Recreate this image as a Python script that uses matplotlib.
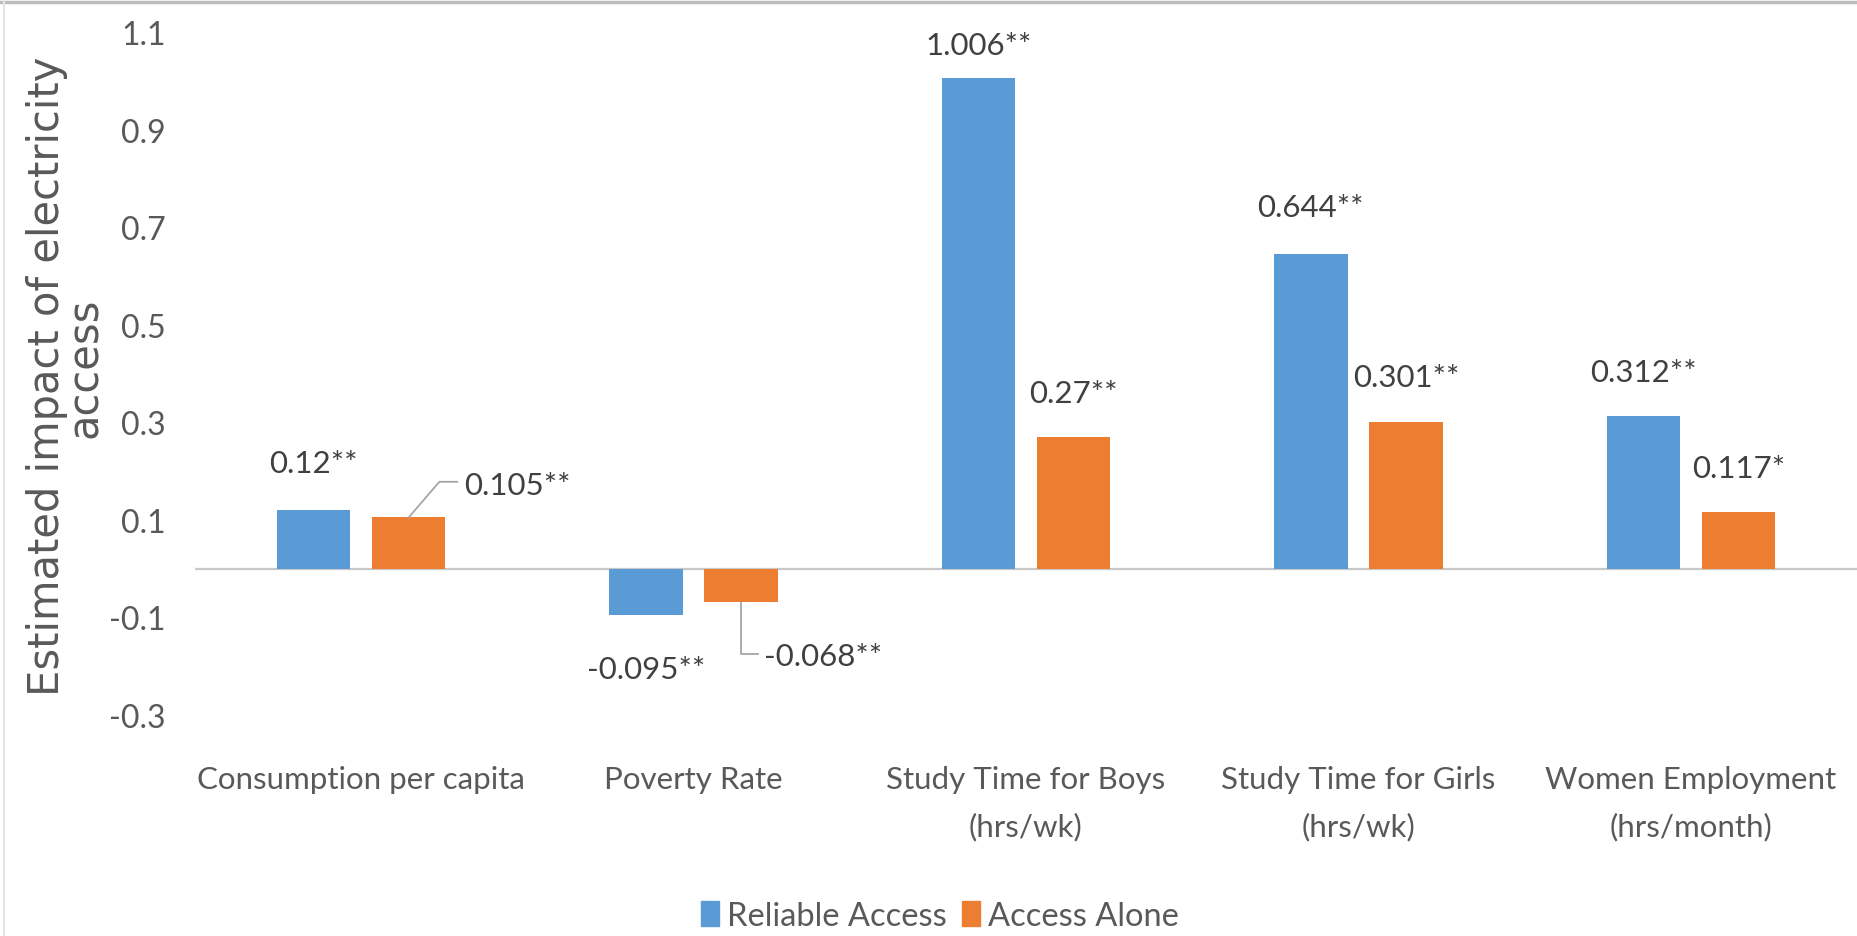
import matplotlib
matplotlib.use("Agg")
import matplotlib.pyplot as plt
from matplotlib.lines import Line2D
from matplotlib.patches import Patch
import numpy as np

categories = ["Consumption per capita", "Poverty Rate", "Study Time for Boys\n(hrs/wk)",
              "Study Time for Girls\n(hrs/wk)", "Women Employment\n(hrs/month)"]
reliable = [0.12, -0.095, 1.006, 0.644, 0.312]
alone = [0.105, -0.068, 0.27, 0.301, 0.117]
reliable_labels = ["0.12**", "-0.095**", "1.006**", "0.644**", "0.312**"]
alone_labels = ["0.105**", "-0.068**", "0.27**", "0.301**", "0.117*"]
yticks = [-0.3, -0.1, 0.1, 0.3, 0.5, 0.7, 0.9, 1.1]

# where Excel had the labels dragged to (label centre, data units)
reliable_label_y = [0.216, -0.206, 1.073, 0.742, 0.404]
alone_label_y = [0.36, 0.393, 0.206]   # boys, girls, women

blue = "#5B9BD5"
orange = "#ED7D31"
txt = "#404040"
grey = "#595959"
font = ["Lato", "DejaVu Sans"]
fs = 22.5

W, H = 1857, 937
fig = plt.figure(figsize=(W / 100, H / 100), dpi=100)
ax = fig.add_axes([195 / W, 1 - 716 / H, 1 - 195 / W, (716 - 33) / H])

x = np.arange(len(categories))
bw = 0.221
off = 0.143
ax.bar(x - off, reliable, bw, color=blue, label="Reliable Access")
ax.bar(x + off, alone, bw, color=orange, label="Access Alone")

ax.set_xlim(-0.5, len(categories) - 0.5)
ax.set_ylim(-0.3, 1.1)
ax.axhline(0, color="#c8c8c8", lw=1.6, zorder=0)
for s in ax.spines.values():
    s.set_visible(False)

ax.set_yticks(yticks)
ax.set_yticklabels(["%.1f" % v for v in yticks], family=font, fontsize=23, color=grey)
ax.tick_params(axis="y", length=0, pad=21)
ax.set_xticks(x)
ax.set_xticklabels(categories, family=font, fontsize=fs, color=grey, linespacing=1.8)
ax.tick_params(axis="x", length=0, pad=36)

# data labels on the blue bars
for i in range(len(categories)):
    ax.text(x[i] - off, reliable_label_y[i], reliable_labels[i], ha="center", va="center",
            family=font, fontsize=fs, color=txt)

# orange labels sitting above their bars
for j, i in enumerate([2, 3, 4]):
    ax.text(x[i] + off, alone_label_y[j], alone_labels[i], ha="center", va="center",
            family=font, fontsize=fs, color=txt)

# the two labels moved aside with leader lines
lead = "#a6a6a6"
ax.plot([x[0] + off, x[0] + 0.235, x[0] + 0.289], [alone[0], 0.178, 0.178], color=lead, lw=1.3)
ax.text(x[0] + 0.31, 0.172, alone_labels[0], ha="left", va="center",
        family=font, fontsize=fs, color=txt)
ax.plot([x[1] + off, x[1] + off, x[1] + 0.195], [alone[1], -0.175, -0.175], color=lead, lw=1.3)
ax.text(x[1] + 0.212, -0.18, alone_labels[1], ha="left", va="center",
        family=font, fontsize=fs, color=txt)

# y title, two lines placed separately
fig.text(47 / W, 1 - 376 / H, "Estimated impact of electricity", rotation=90,
         ha="center", va="center", family=["DejaVu Sans"], fontsize=30, color=grey)
fig.text(85 / W, 1 - 368 / H, "access", rotation=90,
         ha="center", va="center", family=["DejaVu Sans"], fontsize=30, color=grey)

handles = [Patch(color=blue, label="Reliable Access"), Patch(color=orange, label="Access Alone")]
fig.legend(handles=handles, loc="center", bbox_to_anchor=(940 / W, 1 - 917 / H), ncol=2,
           frameon=False, handlelength=0.55, handleheight=0.8, handletextpad=0.25,
           columnspacing=0.45, prop={"family": font, "size": 23.5}, labelcolor=grey)

# thin frame bits from the screenshot
fig.add_artist(Line2D([0, 1], [1 - 3 / H] * 2, transform=fig.transFigure, color="#bdbdbd", lw=2.5))
fig.add_artist(Line2D([4 / W] * 2, [0, 1], transform=fig.transFigure, color="#e6e6e6", lw=1.5))

fig.savefig("out.png", dpi=100, facecolor="white")
